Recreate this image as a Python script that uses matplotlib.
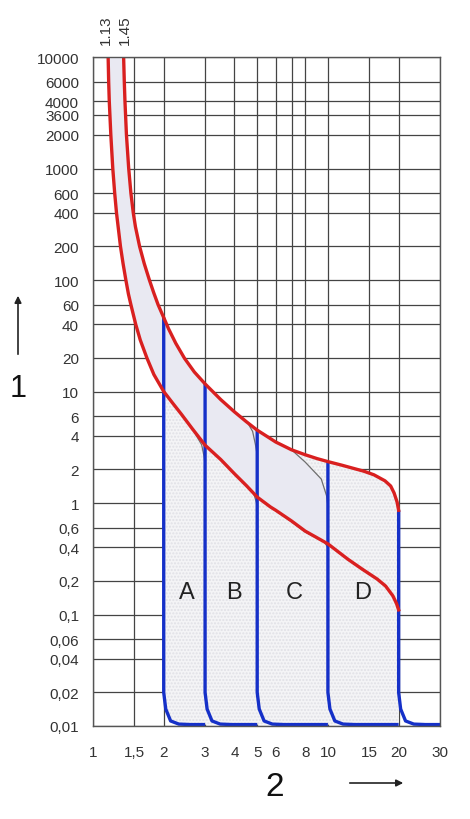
import numpy as np
import matplotlib
matplotlib.use("Agg")
import matplotlib.pyplot as plt
from matplotlib.patches import FancyArrowPatch

plt.rcParams['font.family'] = ['Liberation Sans', 'DejaVu Sans']

# ---- data ----
# upper (1.45) tripping curve: multiple of In, time (s)
upper_x = [1.35, 1.359, 1.368, 1.388, 1.419, 1.45, 1.484, 1.516, 1.579, 1.653, 1.738, 1.813,
           1.893, 2.0, 2.1, 2.25, 2.45, 2.7, 3.0, 3.5, 4.0, 4.5, 5.0, 5.5, 6.0, 7.0, 8.0,
           9.0, 10.0, 11.4, 13.0, 14.2, 15.7, 17.5, 18.5, 19.13, 19.7, 20.0]
upper_t = [10000, 6000, 4000, 2000, 1000, 600, 400, 300, 200, 140, 100, 77,
           60, 46, 36.3, 27.1, 19.9, 14.96, 11.7, 8.45, 6.57, 5.35, 4.5, 3.96, 3.52, 3.0, 2.71,
           2.5, 2.35, 2.19, 2.03, 1.93, 1.79, 1.58, 1.42, 1.23, 1.02, 0.86]
# lower (1.13) tripping curve
lower_x = [1.16, 1.166, 1.173, 1.191, 1.214, 1.237, 1.259, 1.309, 1.343, 1.38, 1.415, 1.45,
           1.52, 1.589, 1.696, 1.816, 2.0, 2.18, 2.376, 2.65, 3.0, 3.5, 4.0, 4.5, 5.0, 5.7,
           6.0, 7.0, 8.0, 10.0, 12.14, 14.0, 16.2, 17.6, 18.9, 19.6, 20.0]
lower_t = [10000, 6000, 4000, 2000, 1000, 600, 400, 200, 140, 100, 75, 60,
           40, 29, 20, 14.2, 10, 7.9, 6.27, 4.62, 3.3, 2.45, 1.83, 1.43, 1.13, 0.92,
           0.86, 0.69, 0.56, 0.43, 0.314, 0.255, 0.208, 0.18, 0.147, 0.125, 0.11]

# magnetic trip thresholds (blue) and where they meet the upper curve
blue_x = [2, 3, 5, 10, 20]
blue_top = [46, 11.7, 4.5, 2.35, 0.86]
# bottom knee of each blue curve (ratio to threshold, time)
knee_ratio = [1.0, 1.02, 1.07, 1.16, 1.30]
knee_t = [0.02, 0.0142, 0.0111, 0.0104, 0.0103]

# thin grey knee curves
grey_curves = [
    ([2.72, 2.90, 2.97, 3.0], [4.2, 3.33, 2.63, 2.25]),
    ([4.55, 4.78, 4.91, 5.0], [5.25, 4.39, 3.37, 2.7]),
    ([4.55, 4.84, 4.97, 5.0], [1.4, 1.20, 1.0, 0.94]),
    ([7.0, 8.0, 9.37, 9.87, 10.0], [3.0, 2.33, 1.64, 1.16, 0.94]),
    ([6.0, 6.75, 8.0, 9.61, 10.0], [0.86, 0.72, 0.55, 0.45, 0.40]),
]

letters = ['A', 'B', 'C', 'D']
letter_x = [2.5, 4.0, 7.2, 14.0]
letter_y = 0.16

xtick_vals = [1, 1.5, 2, 3, 4, 5, 6, 7, 8, 10, 15, 20, 30]
xtick_labels = ['1', '1,5', '2', '3', '4', '5', '6', '', '8', '10', '15', '20', '30']
ytick_vals = [0.01, 0.02, 0.04, 0.06, 0.1, 0.2, 0.4, 0.6, 1, 2, 4, 6, 10, 20, 40, 60,
              100, 200, 400, 600, 1000, 2000, 3050, 4000, 6000, 10000]
ytick_labels = ['0,01', '0,02', '0,04', '0,06', '0,1', '0,2', '0,4', '0,6', '1', '2', '4', '6',
                '10', '20', '40', '60', '100', '200', '400', '600', '1000', '2000', '3600',
                '4000', '6000', '10000']
top_labels = ['1.13', '1.45']
top_label_x = [1.13, 1.37]

# ---- figure ----
fig = plt.figure(figsize=(4.7, 8.2), dpi=100)
ax = fig.add_axes([93 / 470, 1 - 727 / 820, (440 - 93) / 470, (727 - 58) / 820])
ax.set_xscale('log')
ax.set_yscale('log')
ax.set_xlim(1, 30)
ax.set_ylim(0.01, 10000)

ax.set_xticks(xtick_vals)
ax.set_xticklabels(xtick_labels)
ax.set_yticks(ytick_vals)
ax.set_yticklabels(ytick_labels)
ax.minorticks_off()
ax.tick_params(axis='both', length=0, labelsize=11, labelcolor='#333333')
ax.tick_params(axis='x', pad=14)
ax.tick_params(axis='y', pad=10)
ax.set_axisbelow(True)
ax.grid(True, color='#444444', linewidth=0.9)
for sp in ax.spines.values():
    sp.set_color('#555555')
    sp.set_linewidth(1.0)
    sp.set_zorder(10)

ux = np.array(upper_x); ut = np.array(upper_t)
lx = np.array(lower_x); lt = np.array(lower_t)

# stippled region under the envelope (right of threshold A)
m = (ux > blue_x[0]) & (ux <= blue_x[-1])
kx = np.array(knee_ratio) * blue_x[0]
kt = np.array(knee_t)
sx = np.concatenate([[blue_x[0]], ux[m], [blue_x[-1]], kx[::-1]])
st = np.concatenate([[blue_top[0]], ut[m], [knee_t[-1]], kt[::-1]])
ax.fill(sx, st, facecolor='#f4f4f6', edgecolor='#e0e0e6', hatch='.....', linewidth=0, zorder=1)

# lavender band between the two curves (up to curve D knee)
g4x, g4t = grey_curves[3]
mu = ux <= g4x[0]
ml = lx <= 10.0
bx = np.concatenate([ux[mu], g4x[1:], lx[ml][::-1]])
bt = np.concatenate([ut[mu], g4t[1:], lt[ml][::-1]])
ax.fill(bx, bt, facecolor='#e9e9f2', edgecolor='none', zorder=2)

for gx, gt in grey_curves:
    ax.plot(gx, gt, color='#6e6e6e', linewidth=0.9, zorder=3)

# blue magnetic trip curves
for i, (bx0, top) in enumerate(zip(blue_x, blue_top)):
    nxt = blue_x[i + 1] if i + 1 < len(blue_x) else xtick_vals[-1]
    xs = np.concatenate([[bx0], np.array(knee_ratio) * bx0, [nxt]])
    ts = np.concatenate([[top], knee_t, [knee_t[-1]]])
    ax.plot(xs, ts, color='#1530c8', linewidth=2.4, zorder=4, solid_capstyle='butt')

# red thermal curves
ax.plot(ux, ut, color='#d92020', linewidth=2.4, zorder=5, solid_joinstyle='round')
ax.plot(lx, lt, color='#d92020', linewidth=2.4, zorder=5, solid_joinstyle='round')

for L, x in zip(letters, letter_x):
    ax.text(x, letter_y, L, fontsize=17, ha='center', va='center', color='#222222', zorder=6)

trans = ax.get_xaxis_transform()
for lab, x in zip(top_labels, top_label_x):
    ax.text(x, 1.02, lab, rotation=90, ha='center', va='bottom', fontsize=11,
            color='#333333', transform=trans)

# axis names with arrows
fig.text(18 / 470, 1 - 389 / 820, '1', fontsize=22, ha='center', va='center', color='#111111')
fig.text(275 / 470, 1 - 788 / 820, '2', fontsize=24, ha='center', va='center', color='#111111')
fig.patches.append(FancyArrowPatch(
    (18 / 470, 1 - 358 / 820), (18 / 470, 1 - 294 / 820), transform=fig.transFigure,
    arrowstyle='-|>', mutation_scale=10, color='#222222', linewidth=1.2))
fig.patches.append(FancyArrowPatch(
    (347 / 470, 1 - 784 / 820), (406 / 470, 1 - 784 / 820), transform=fig.transFigure,
    arrowstyle='-|>', mutation_scale=10, color='#222222', linewidth=1.2))

fig.savefig('out.png', dpi=100)
